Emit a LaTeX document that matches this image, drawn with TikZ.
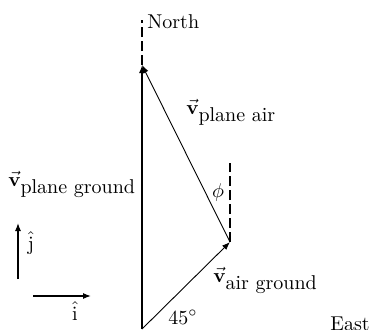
\documentclass[tikz,border=0pt]{standalone}
\usepackage{amsmath}
\usetikzlibrary{arrows.meta}

\begin{document}
\begin{tikzpicture}[x=0.5pt,y=-0.5pt,
	vec/.style={-{Latex[length=4pt,width=3pt]}},
	axis/.style={dashed,dash pattern=on 5pt off 2pt,line width=0.6pt},
	lbl/.style={anchor=base west,inner sep=0pt}]

	\useasboundingbox (0,0) rectangle (374,329);

	% ---- coordinates

	\coordinate (O) at (142,329);
	\coordinate (A) at (230,242);
	\coordinate (P) at (142,65);
	\coordinate (N) at (142,20);
	\coordinate (D) at (230,163);

	\coordinate (j0) at (18,279);
	\coordinate (j1) at (18,223);
	\coordinate (i0) at (33,296);
	\coordinate (i1) at (91,296);

	% ---- dashed reference lines

	\draw[axis] (P) -- (N);
	\draw[axis] (A) -- (D);

	% ---- velocity triangle

	\draw[vec,line width=0.8pt] (O) -- (P);
	\draw[vec,line width=0.45pt] (O) -- (A);
	\draw[vec,line width=0.45pt] (A) -- (P);

	% ---- unit vectors

	\draw[vec,line width=0.6pt] (j0) -- (j1);
	\draw[vec,line width=0.6pt] (i0) -- (i1);

	% ---- labels

	\node[lbl] (north) at (147,28) {North};
	\node[lbl] (east) at (330,330) {East};
	\node[lbl] (angle) at (168,324) {$45^\circ$};
	\node (phi) at (218,192) {$\phi$};

	\node[lbl] (vpa) at (186,114) {$\vec{\mathbf{v}}_{\mbox{plane air}}$};
	\node[lbl] (vpg) at (8,186) {$\vec{\mathbf{v}}_{\mbox{plane ground}}$};
	\node[lbl] (vag) at (213,282) {$\vec{\mathbf{v}}_{\mbox{air ground}}$};

	\node (jhat) at (31,243) {$\hat{\mathrm{j}}$};
	\node (ihat) at (75,311) {$\hat{\mathrm{i}}$};

\end{tikzpicture}
\end{document}
